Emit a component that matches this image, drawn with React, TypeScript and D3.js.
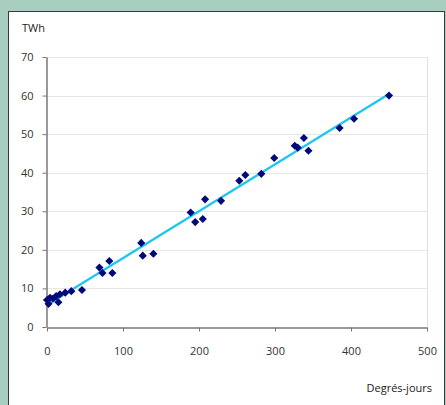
import React, { useRef, useEffect } from "react";
import * as d3 from "d3";

// degree-days vs consumption (TWh)
const degreeDays = [0, 2, 4, 8, 12, 15, 17, 24, 32, 46, 69, 73, 82, 86, 124, 126, 140, 189, 195, 205, 208, 229, 253, 261, 282, 299, 326, 330, 338, 344, 385, 404, 450];
const twh = [7.0, 6.0, 7.6, 7.4, 8.0, 6.4, 8.5, 8.9, 9.3, 9.6, 15.4, 14.0, 17.1, 14.0, 21.8, 18.5, 19.0, 29.7, 27.2, 28.0, 33.1, 32.7, 37.9, 39.4, 39.7, 43.8, 47.0, 46.5, 49.0, 45.7, 51.6, 54.0, 60.0];
const xTicks = [0, 100, 200, 300, 400, 500];
const yTicks = [0, 10, 20, 30, 40, 50, 60, 70];

const W = 446;
const H = 405;
const FONT = "'Open Sans', 'Noto Sans', sans-serif";

const App = () => {
    const ref = useRef<SVGSVGElement>(null);

    useEffect(() => {
        const svg = d3.select(ref.current);
        svg.selectAll("*").remove();

        // green backdrop + white panel
        svg.append("rect").attr("width", W).attr("height", H).attr("fill", "#a7cebf");
        svg.append("rect")
            .attr("x", 8.5).attr("y", 11.5)
            .attr("width", 436).attr("height", 400)
            .attr("fill", "#fff")
            .attr("stroke", "#3a3a3a");

        const x = d3.scaleLinear().domain([0, 500]).range([47, 427]);
        const y = d3.scaleLinear().domain([0, 70]).range([327, 57]);

        // grid
        svg.append("g").selectAll("line")
            .data(yTicks.filter(d => d > 0))
            .join("line")
            .attr("x1", x(0)).attr("x2", x(500))
            .attr("y1", d => Math.round(y(d)) + 0.5).attr("y2", d => Math.round(y(d)) + 0.5)
            .attr("stroke", "#e6e6e6");
        svg.append("line")
            .attr("x1", x(500) + 0.5).attr("x2", x(500) + 0.5)
            .attr("y1", y(70)).attr("y2", y(0))
            .attr("stroke", "#e0e0e0");

        // axes
        const xAxis = svg.append("g")
            .attr("transform", `translate(0,${Math.round(y(0)) + 0.5})`)
            .call(d3.axisBottom(x).tickValues(xTicks).tickSize(4).tickPadding(16).tickSizeOuter(0));
        const yAxis = svg.append("g")
            .attr("transform", `translate(${Math.round(x(0)) - 0.5},0)`)
            .call(d3.axisLeft(y).tickValues(yTicks).tickSize(4).tickPadding(9).tickSizeOuter(0));
        [xAxis, yAxis].forEach(g => {
            g.select(".domain").attr("stroke", "#777").attr("stroke-width", 1.5);
            g.selectAll(".tick line").attr("stroke", "#777");
            g.selectAll("text").attr("fill", "#333").style("font-family", FONT).style("font-size", "11px");
        });

        // least-squares trendline
        const mx = d3.mean(degreeDays) as number;
        const my = d3.mean(twh) as number;
        const slope = d3.sum(degreeDays, (d, i) => (d - mx) * (twh[i] - my)) /
            d3.sum(degreeDays, d => (d - mx) ** 2);
        const icpt = my - slope * mx;
        const xMin = d3.min(degreeDays) as number;
        const xMax = d3.max(degreeDays) as number;
        svg.append("line")
            .attr("x1", x(xMin)).attr("y1", y(icpt + slope * xMin))
            .attr("x2", x(xMax)).attr("y2", y(icpt + slope * xMax))
            .attr("stroke", "#1cc6f2")
            .attr("stroke-width", 2.2);

        // diamonds
        const diamond = d3.symbol().type(d3.symbolDiamond2).size(42);
        svg.append("g").selectAll("path")
            .data(degreeDays)
            .join("path")
            .attr("d", diamond)
            .attr("transform", (d, i) => `translate(${x(d)},${y(twh[i])})`)
            .attr("fill", "#00087a");

        // axis titles
        svg.append("text")
            .attr("x", 22).attr("y", 32)
            .attr("fill", "#222")
            .style("font-family", FONT).style("font-size", "11px")
            .text("TWh");
        svg.append("text")
            .attr("x", 432).attr("y", 392)
            .attr("text-anchor", "end")
            .attr("fill", "#222")
            .style("font-family", FONT).style("font-size", "11px")
            .text("Degrés-jours");
    }, []);

    return (
        <div style={{ position: "fixed", left: 0, top: 0 }}>
            <svg ref={ref} width={W} height={H} style={{ display: "block" }} />
        </div>
    );
};

export default App;
